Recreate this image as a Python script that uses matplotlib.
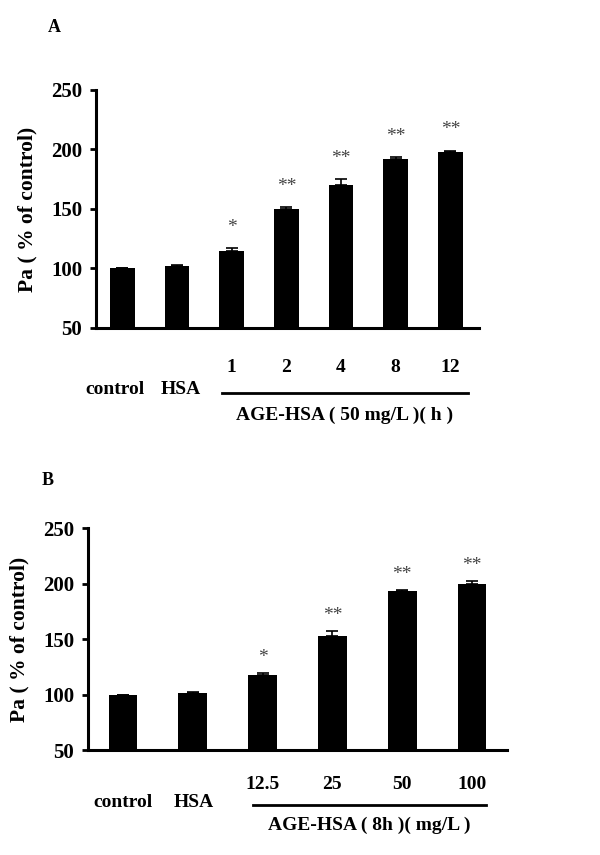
import matplotlib.pyplot as plt
import numpy as np

plt.rcParams['font.family'] = ['Liberation Serif', 'DejaVu Serif']

# Panel A: time course
a_groups = ['control', 'HSA', '1', '2', '4', '8', '12']
a_values = [100, 102, 115, 150, 170, 192, 198]
a_errors = [0, 0.5, 2, 1.5, 5, 1.5, 1]
a_stars = ['', '', '*', '**', '**', '**', '**']
a_xlabel = 'AGE-HSA ( 50 mg/L )( h )'

# Panel B: dose response
b_groups = ['control', 'HSA', '12.5', '25', '50', '100']
b_values = [100, 101, 118, 153, 193, 200]
b_errors = [0, 1, 1.5, 4, 1.5, 2.5]
b_stars = ['', '', '*', '**', '**', '**']
b_xlabel = 'AGE-HSA ( 8h )( mg/L )'

yticks = [50, 100, 150, 200, 250]

fig = plt.figure(figsize=(6, 8.55), dpi=100)


def panel(rect, groups, values, errors, stars, xlabel, width, xlim,
          num_y, ctl_y, line_y, lab_y, line_x, star_off, ctl_shift):
    ax = fig.add_axes(rect)
    x = np.arange(len(groups))
    lower = np.zeros(len(values))
    ax.bar(x, values, width=width, color='black', bottom=0, zorder=2)
    ax.errorbar(x, values, yerr=[lower, errors], fmt='none', ecolor='black',
                elinewidth=1.2, capsize=4, capthick=1.2, zorder=3)
    for xi, v, e, s in zip(x, values, errors, stars):
        if s:
            ax.annotate(s, (xi, v + e), xytext=(0, star_off), textcoords='offset points',
                        ha='center', va='center', fontsize=14, color='#444444')
    ax.set_xlim(*xlim)
    ax.set_ylim(50, 250)
    ax.set_yticks(yticks)
    ax.set_yticklabels([str(t) for t in yticks], fontsize=15, fontweight='bold')
    ax.set_xticks([])
    for side in ['top', 'right']:
        ax.spines[side].set_visible(False)
    for side in ['left', 'bottom']:
        ax.spines[side].set_linewidth(2.2)
    ax.tick_params(axis='y', direction='out', length=4, width=2, pad=6)
    ax.set_ylabel('Pa ( % of control)', fontsize=15.5, fontweight='bold', labelpad=10)

    tr = ax.get_xaxis_transform()
    for xi, g in zip(x, groups):
        if g in ('control', 'HSA'):
            ax.annotate(g, (xi, ctl_y), xycoords=tr, xytext=(ctl_shift[g], 0),
                        textcoords='offset points', ha='center', va='center',
                        fontsize=14, fontweight='bold', annotation_clip=False)
        else:
            ax.text(xi, num_y, g, transform=tr, ha='center', va='center',
                    fontsize=14, fontweight='bold')
    ax.plot(line_x, [line_y, line_y], transform=tr, color='black', lw=2, clip_on=False)
    ax.text(np.mean(line_x), lab_y, xlabel, transform=tr, ha='center', va='center',
            fontsize=14, fontweight='bold')
    return ax


# axes height A: 238 px; B: 222 px
panel([0.16, 0.6164, 0.638, 0.2784], a_groups, a_values, a_errors, a_stars, a_xlabel,
      0.45, (-0.48, 6.52),
      num_y=-40 / 238, ctl_y=-62 / 238, line_y=-65 / 238, lab_y=-87 / 238,
      line_x=[1.82, 6.32], star_off=15, ctl_shift={'control': -5, 'HSA': 3})
panel([0.1467, 0.1228, 0.6983, 0.2596], b_groups, b_values, b_errors, b_stars, b_xlabel,
      0.41, (-0.5, 5.5),
      num_y=-35 / 222, ctl_y=-53 / 222, line_y=-55 / 222, lab_y=-75 / 222,
      line_x=[1.86, 5.2], star_off=11, ctl_shift={'control': 0, 'HSA': 1})

fig.text(54 / 600, 1 - 27 / 855, 'A', fontsize=13, fontweight='bold', ha='center', va='center')
fig.text(48 / 600, 1 - 480 / 855, 'B', fontsize=13, fontweight='bold', ha='center', va='center')

fig.savefig('out.png', dpi=100)
